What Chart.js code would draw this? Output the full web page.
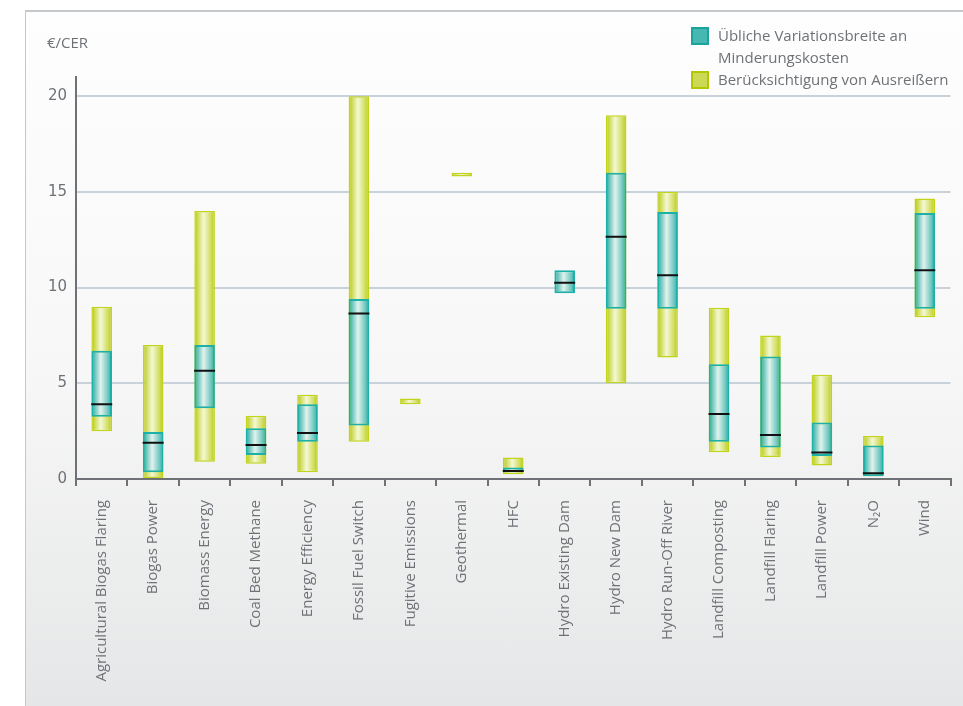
<!DOCTYPE html>
<html>
<head>
<meta charset="utf-8">
<script src="https://cdn.jsdelivr.net/npm/chart.js@4"></script>
<style>
  html, body { margin: 0; padding: 0; background: #ffffff; overflow: hidden; }
  .wrap { position: relative; width: 963px; height: 706px; overflow: hidden; }
  .panel {
    position: absolute; left: 25px; top: 10px; width: 960px; height: 720px;
    border-left: 1px solid #c4c8cb; border-top: 2px solid #c4c8cb;
    background: linear-gradient(to bottom, #fefefe 0%, #f7f7f7 50%, #e4e5e6 100%);
  }
  .chart-box { position: absolute; left: 0; top: 0; width: 963px; height: 706px; }
  .unit { position: absolute; left: 47px; top: 32px; font: 15px 'Open Sans', sans-serif; color: #6e7276; }
  .legend { position: absolute; left: 691px; top: 24px; font: 15px 'Open Sans', sans-serif; color: #6e7276; line-height: 22px; }
  .legend-item { position: relative; padding-left: 27px; }
  .legend-swatch { position: absolute; left: 0; top: 3px; width: 14px; height: 14px; }
</style>
</head>
<body>
<div class="wrap">
  <div class="panel"></div>
  <div class="chart-box"><canvas id="costChart"></canvas></div>
  <div class="unit">€/CER</div>
  <div class="legend">
    <div class="legend-item"><span class="legend-swatch" style="background:#45b9b1;border:2px solid #1aa39c;"></span>Übliche Variationsbreite an<br>Minderungskosten</div>
    <div class="legend-item"><span class="legend-swatch" style="background:#cbda55;border:2px solid #b4c600;"></span>Berücksichtigung von Ausreißern</div>
  </div>
</div>
<script>
const categories = [
  'Agricultural Biogas Flaring', 'Biogas Power', 'Biomass Energy', 'Coal Bed Methane',
  'Energy Efficiency', 'Fossil Fuel Switch', 'Fugitive Emissions', 'Geothermal', 'HFC',
  'Hydro Existing Dam', 'Hydro New Dam', 'Hydro Run-Off River', 'Landfill Composting',
  'Landfill Flaring', 'Landfill Power', 'N₂O', 'Wind'
];

// outer range incl. outliers
const outerLow  = [2.5, 0.05, 0.9, 0.8, 0.35, 1.95, 3.9, 15.8, 0.25, null, 5.0, 6.35, 1.4, 1.15, 0.7, 0.15, 8.45];
const outerHigh = [9.0, 7.0, 14.0, 3.3, 4.4, 20.0, 4.2, 16.0, 1.12, null, 19.0, 15.0, 8.95, 7.5, 5.45, 2.25, 14.65];

// usual range of abatement costs
const innerLow  = [3.25, 0.35, 3.7, 1.25, 1.95, 2.8, null, null, 0.35, 9.7, 8.9, 8.9, 1.95, 1.65, 1.2, 0.15, 8.9];
const innerHigh = [6.7, 2.45, 7.0, 2.65, 3.9, 9.4, null, null, 0.6, 10.9, 16.0, 13.95, 6.0, 6.4, 2.95, 1.75, 13.9];

const medians   = [3.9, 1.9, 5.65, 1.78, 2.4, 8.65, null, null, 0.42, 10.25, 12.65, 10.65, 3.4, 2.3, 1.38, 0.3, 10.9];

const yTicks = [0, 5, 10, 15, 20];

const toRange = (lo, hi) => lo.map((v, i) => (v === null ? null : [v, hi[i]]));

const axisColor = '#6e7276';
const BAR_SHARE = 0.4;

// horizontal shading across each bar, per element
function shaded(stops, fallback) {
  return function(context) {
    const chart = context.chart;
    const xScale = chart.scales.x;
    if (!chart.chartArea || !xScale || context.dataIndex === undefined) return fallback;
    const cx = xScale.getPixelForValue(context.dataIndex);
    const half = (xScale.width / categories.length) * BAR_SHARE / 2;
    if (!isFinite(cx) || !isFinite(half)) return fallback;
    const g = chart.ctx.createLinearGradient(cx - half, 0, cx + half, 0);
    g.addColorStop(0, stops[0]);
    g.addColorStop(0.18, stops[1]);
    g.addColorStop(0.45, stops[2]);
    g.addColorStop(0.82, stops[1]);
    g.addColorStop(1, stops[0]);
    return g;
  };
}

new Chart(document.getElementById('costChart'), {
  type: 'bar',
  data: {
    labels: categories,
    datasets: [
      {
        label: 'Mittelwert',
        type: 'line',
        data: medians,
        showLine: false,
        pointStyle: 'line',
        pointRadius: 10.5,
        pointBorderWidth: 2,
        pointBorderColor: '#111111',
        pointBackgroundColor: '#111111',
        order: 0
      },
      {
        label: 'Übliche Variationsbreite an Minderungskosten',
        data: toRange(innerLow, innerHigh),
        backgroundColor: shaded(['#16a69e', '#6cc6bf', '#e2f2ed'], '#45b9b1'),
        borderColor: '#1db0a8',
        borderWidth: 2,
        borderSkipped: false,
        grouped: false,
        order: 1
      },
      {
        label: 'Berücksichtigung von Ausreißern',
        data: toRange(outerLow, outerHigh),
        backgroundColor: shaded(['#b4c600', '#cfdc5a', '#f4f8d4'], '#cbda55'),
        borderColor: '#c2d31c',
        borderWidth: 1.5,
        borderSkipped: false,
        grouped: false,
        order: 2
      }
    ]
  },
  options: {
    responsive: true,
    maintainAspectRatio: false,
    animation: false,
    layout: { padding: { top: 77, left: 0, right: 0, bottom: 0 } },
    datasets: {
      bar: { categoryPercentage: 1, barPercentage: BAR_SHARE }
    },
    plugins: {
      legend: { display: false },
      tooltip: { enabled: false }
    },
    scales: {
      x: {
        offset: true,
        grid: {
          offset: true,
          drawOnChartArea: false,
          drawTicks: true,
          tickLength: 7,
          color: axisColor,
          lineWidth: 2
        },
        border: { display: true, color: axisColor, width: 2 },
        ticks: {
          autoSkip: false,
          minRotation: 90,
          maxRotation: 90,
          padding: 14,
          color: axisColor,
          font: { family: 'Open Sans', size: 15 }
        },
        afterFit(scale) { scale.height = 227; }
      },
      y: {
        min: 0,
        max: 21,
        afterBuildTicks(scale) { scale.ticks = yTicks.map(v => ({ value: v })); },
        grid: {
          drawTicks: false,
          color: ctx => (ctx.tick && ctx.tick.value === 0 ? 'rgba(0,0,0,0)' : '#c9d2da'),
          lineWidth: 2
        },
        border: { display: true, color: axisColor, width: 2 },
        ticks: {
          padding: 9,
          color: axisColor,
          font: { family: 'DejaVu Sans', size: 15 }
        },
        afterFit(scale) { scale.width = 76; }
      }
    }
  }
});
</script>
</body>
</html>
